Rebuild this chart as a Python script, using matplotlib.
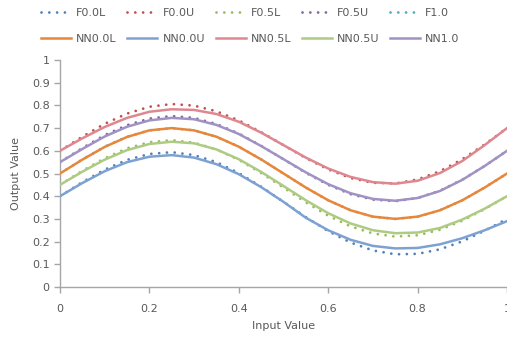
import matplotlib.pyplot as plt

# x positions (step 0.05)
x = [0.00, 0.05, 0.10, 0.15, 0.20, 0.25, 0.30, 0.35, 0.40, 0.45, 0.50,
     0.55, 0.60, 0.65, 0.70, 0.75, 0.80, 0.85, 0.90, 0.95, 1.00]

# dotted series
f00l = [0.400, 0.462, 0.517, 0.560, 0.586, 0.594, 0.581, 0.550, 0.502, 0.442, 0.375,
        0.308, 0.246, 0.196, 0.161, 0.144, 0.146, 0.166, 0.201, 0.248, 0.300]
f00u = [0.600, 0.662, 0.719, 0.764, 0.794, 0.806, 0.799, 0.774, 0.734, 0.682, 0.625,
        0.568, 0.518, 0.480, 0.459, 0.456, 0.474, 0.510, 0.563, 0.628, 0.700]
f05l = [0.450, 0.512, 0.567, 0.611, 0.638, 0.647, 0.636, 0.606, 0.560, 0.502, 0.438,
        0.373, 0.314, 0.267, 0.236, 0.222, 0.228, 0.252, 0.292, 0.343, 0.400]
f05u = [0.550, 0.612, 0.669, 0.713, 0.742, 0.753, 0.745, 0.718, 0.676, 0.622, 0.563,
        0.503, 0.450, 0.409, 0.385, 0.378, 0.392, 0.424, 0.473, 0.533, 0.600]
f10 = [0.500, 0.562, 0.618, 0.662, 0.690, 0.700, 0.690, 0.662, 0.618, 0.562, 0.500,
       0.438, 0.382, 0.338, 0.310, 0.300, 0.310, 0.338, 0.382, 0.438, 0.500]

# solid series
nn00l = [0.500, 0.561, 0.617, 0.661, 0.690, 0.700, 0.690, 0.662, 0.618, 0.562, 0.500,
         0.438, 0.382, 0.338, 0.310, 0.300, 0.310, 0.338, 0.382, 0.438, 0.500]
nn00u = [0.400, 0.458, 0.510, 0.550, 0.574, 0.581, 0.570, 0.541, 0.497, 0.440, 0.375,
         0.305, 0.250, 0.208, 0.181, 0.170, 0.172, 0.188, 0.215, 0.250, 0.290]
nn05l = [0.600, 0.655, 0.705, 0.745, 0.772, 0.783, 0.780, 0.762, 0.728, 0.680, 0.625,
         0.570, 0.522, 0.485, 0.462, 0.455, 0.468, 0.502, 0.555, 0.625, 0.700]
nn05u = [0.450, 0.508, 0.561, 0.603, 0.630, 0.640, 0.633, 0.606, 0.563, 0.507, 0.445,
         0.382, 0.325, 0.280, 0.250, 0.237, 0.240, 0.260, 0.297, 0.345, 0.400]
nn10 = [0.550, 0.608, 0.663, 0.706, 0.734, 0.745, 0.739, 0.714, 0.674, 0.621, 0.563,
        0.505, 0.453, 0.413, 0.388, 0.380, 0.392, 0.423, 0.472, 0.533, 0.600]

dot_names = ['F0.0L', 'F0.0U', 'F0.5L', 'F0.5U', 'F1.0']
dot_data = [f00l, f00u, f05l, f05u, f10]
dot_colors = ['#4F81BD', '#C0504D', '#9BBB59', '#8064A2', '#4BACC6']

line_names = ['NN0.0L', 'NN0.0U', 'NN0.5L', 'NN0.5U', 'NN1.0']
line_data = [nn00l, nn00u, nn05l, nn05u, nn10]
line_colors = ['#E8873A', '#7DA2D2', '#DE8790', '#ADCB82', '#A093C4']

plt.rcParams['font.family'] = 'DejaVu Sans'
fig = plt.figure(figsize=(5.07, 3.40), dpi=100)
ax = fig.add_axes([60 / 507, 1 - 287 / 340, 447 / 507, 227 / 340])

dot_style = (0, (0.01, 2.8))
handles = []
for name, ys, c in zip(dot_names, dot_data, dot_colors):
    h, = ax.plot(x, ys, color=c, lw=2.0, linestyle=dot_style,
                 dash_capstyle='round', label=name, zorder=2)
    handles.append(h)
for name, ys, c in zip(line_names, line_data, line_colors):
    h, = ax.plot(x, ys, color=c, lw=1.8, label=name, zorder=3)
    handles.append(h)

ax.set_xlim(0, 1)
ax.set_ylim(0, 1)
ax.set_xticks([0, 0.2, 0.4, 0.6, 0.8, 1])
ax.set_xticklabels(['0', '0.2', '0.4', '0.6', '0.8', '1'])
ax.set_yticks([i / 10 for i in range(11)])
ax.set_yticklabels(['0', '0.1', '0.2', '0.3', '0.4', '0.5', '0.6', '0.7', '0.8', '0.9', '1'])
for s in ['top', 'right']:
    ax.spines[s].set_visible(False)
for s in ['left', 'bottom']:
    ax.spines[s].set_color('#A6A6A6')
    ax.spines[s].set_linewidth(1.0)
ax.tick_params(colors='#A6A6A6', labelcolor='#595959', labelsize=8,
               length=4, width=1.0, direction='out')
ax.tick_params(axis='x', pad=8)
ax.set_xlabel('Input Value', fontsize=8, color='#595959', labelpad=5)
ax.set_ylabel('Output Value', fontsize=8, color='#595959', labelpad=8)

# legend: row 1 dotted, row 2 solid (column-major ordering)
order = []
for i in range(5):
    order.append(handles[i])
    order.append(handles[i + 5])
fig.legend(handles=order, labels=[h.get_label() for h in order], ncol=5,
           loc='upper left', bbox_to_anchor=(41 / 507, 1 - 8 / 340),
           frameon=False, fontsize=8, labelcolor='#595959',
           handlelength=2.7, handletextpad=0.45, columnspacing=0.97,
           labelspacing=1.45, borderaxespad=0, borderpad=0)

fig.savefig('out.png', dpi=100)
